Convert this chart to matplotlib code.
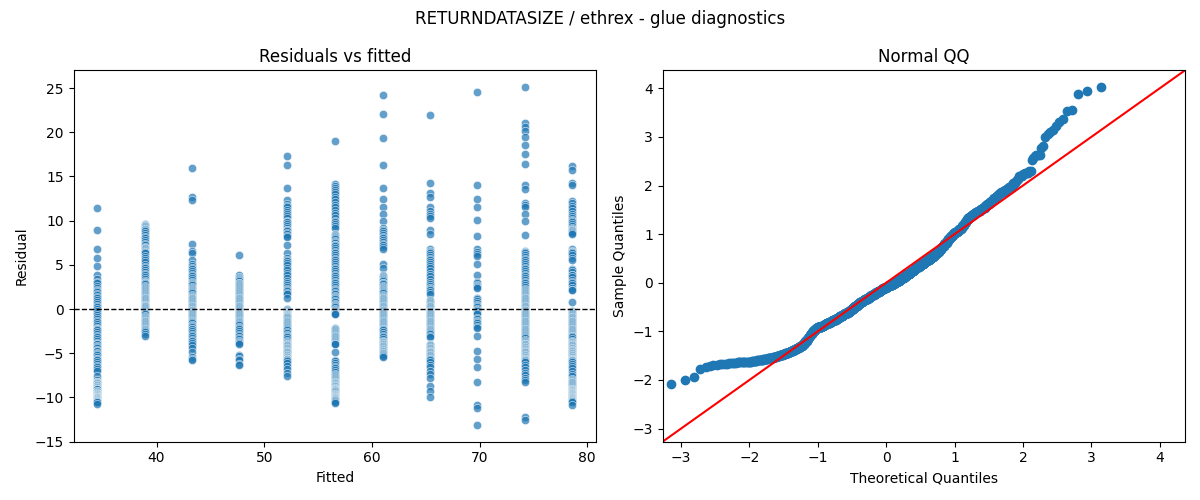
import numpy as np
import matplotlib
matplotlib.use('Agg')
import matplotlib.pyplot as plt
import seaborn as sns
from statistics import NormalDist

# Fitted levels (x positions of the columns in the left panel)
FITTED = [34.5, 38.9, 43.3, 47.7, 52.1, 56.6, 61.0, 65.4, 69.8, 74.2, 78.6]

# Residuals, one list per fitted level
resid_34 = [11.4, 8.9, 6.8,
            5.8, 4.9, 3.9, 3.4, 3.1, 2.9, 2.6, 2.4,
            2.1, 2.0, 1.9, 1.7, 1.6, 1.4, 1.2, 1.0, 0.8, 0.6, 0.4, 0.2, 0.0, -0.2, -0.5, -0.7,
            -0.9, -1.1, -1.3, -1.5, -1.7, -1.9, -2.1, -2.2, -2.3, -2.4, -2.6, -2.8, -3.0, -3.2, -3.4, -3.6,
            -3.8, -3.9, -4.0, -4.2, -4.3, -4.4, -4.6, -4.7, -4.8, -5.0, -5.1, -5.2, -5.4, -5.6, -5.7, -5.8,
            -6.0, -6.2, -6.4, -6.6, -6.8, -7.0, -7.6, -8.0,
            -8.2, -8.2, -8.3, -8.4, -8.4, -8.5, -8.6, -8.6, -8.7, -8.8, -8.8,
            -8.9, -9.0, -9.0, -9.1, -9.1,
            -9.25, -9.3, -9.4, -9.45, -9.5, -9.6, -9.65, -9.7, -9.75, -9.8, -9.85, -9.9, -9.9, -9.95, -9.95,
            -10.0, -10.1, -10.1, -10.2, -10.2, -10.3, -10.3, -10.4, -10.4, -10.5, -10.5, -10.7]

resid_39 = [9.6, 9.55, 9.5, 9.45, 9.4, 9.3, 9.2, 9.1, 9.05, 9.0, 8.8, 8.6, 8.4, 8.2, 8.0, 7.8, 7.6, 7.4,
            7.2, 7.0, 6.95, 6.9, 6.8, 6.7, 6.6, 6.5, 6.4, 6.3,
            6.0, 5.8, 5.6, 5.3, 5.0, 4.8, 4.6, 4.4, 4.2, 4.0, 3.8, 3.6, 3.4, 3.2, 3.1, 3.0, 2.9, 2.8,
            2.6, 2.5, 2.4, 2.3,
            2.1, 2.0, 1.9, 1.8, 1.7, 1.6, 1.5, 1.4, 1.3, 1.2, 1.1, 1.0, 0.9, 0.8, 0.7, 0.6, 0.5, 0.45,
            0.4, 0.3, 0.2, 0.1, 0.0, -0.1, -0.2, -0.3, -0.4, -0.5, -0.6, -0.8,
            -0.9, -1.0, -1.1, -1.2, -1.3, -1.4, -1.5, -1.6, -1.7, -1.8, -1.9, -2.0, -2.1, -2.2, -2.3,
            -2.4, -2.5, -2.6, -2.8, -3.0]

resid_43 = [16.0, 12.7, 12.3, 7.4, 6.6, 6.3,
            5.6, 5.1, 4.9, 4.7, 4.5, 4.3, 4.1, 3.9, 3.7, 3.5, 3.3, 3.1, 2.9, 2.8, 2.7, 2.5, 2.4, 2.3,
            2.1, 2.0, 1.9, 1.8, 1.6, 1.5, 1.4, 1.3, 1.2, 1.1, 1.0, 0.9, 0.8, 0.7, 0.6, 0.5, 0.4, 0.3,
            0.2, 0.1, 0.0, -0.1, -0.15, -0.2, -0.3, -0.4, -0.5, -0.6, -0.7, -0.8,
            -0.9, -1.0, -1.1, -1.2, -1.3, -1.4, -1.5, -1.6, -1.8, -1.9, -2.0, -2.2, -2.3, -2.5, -2.7,
            -2.9, -3.1, -3.3, -3.5, -3.6,
            -3.8, -4.1, -4.4, -4.9, -5.4, -5.6, -5.8]

resid_48 = [6.1, 3.9, 3.6, 3.5, 3.4, 3.3, 3.2, 3.0, 2.9, 2.8, 2.7, 2.6, 2.5, 2.4, 2.3,
            2.1, 2.0, 1.9, 1.8, 1.7, 1.6, 1.5, 1.4, 1.3, 1.2, 1.1, 1.0, 0.9, 0.8, 0.7, 0.6, 0.5, 0.4,
            0.3, 0.2, 0.1, 0.0, -0.1, -0.2, -0.3, -0.4, -0.5, -0.6, -0.7, -0.8,
            -0.9, -1.0, -1.1, -1.2, -1.3, -1.4, -1.5, -1.6, -1.7, -1.8, -2.0, -2.1, -2.3, -2.5, -2.7,
            -2.9, -3.1, -3.3, -3.4, -3.6,
            -3.7, -3.8, -4.0, -5.2, -5.3, -5.6, -5.8, -6.2, -6.3]

resid_52 = [17.3, 16.3, 13.7,
            12.3, 11.9, 11.7, 11.5, 11.2, 11.0, 10.8, 10.5, 10.3, 10.0,
            9.9, 9.8, 9.6, 9.4, 9.2, 9.0, 8.9, 8.8, 8.6, 8.5, 8.3, 8.1, 7.3, 6.3,
            5.8, 5.6, 5.4, 5.2, 5.0, 4.7, 4.4, 4.1, 3.8, 3.5, 3.2, 2.9, 2.7, 2.5, 2.3, 2.2,
            2.0, 1.8, 1.7, 1.2, 0.0, -0.1, -0.2, -0.3, -0.3, -0.4, -0.4, -0.5, -0.5, -0.6, -0.6,
            -0.7, -0.7, -0.8, -0.8, -0.85,
            -0.9, -1.0, -1.1, -1.2, -1.3, -1.4, -1.5, -1.6, -1.7, -1.8, -1.9, -2.0, -2.1, -2.3, -2.4,
            -2.6, -2.7, -2.9, -3.0, -3.2, -3.4, -3.6,
            -3.7, -3.8, -3.9, -4.0, -4.05, -4.1, -4.2, -4.3, -4.4, -4.45, -4.5, -4.6, -4.7, -4.8,
            -4.85, -4.9, -5.0, -5.1, -5.2, -5.25, -5.3, -5.4, -5.45, -5.5, -5.6, -5.65, -5.7, -5.8, -5.85,
            -6.1, -6.4, -6.8, -7.2, -7.6]

resid_57 = [19.0, 14.1, 13.9, 13.7,
            13.5, 13.3, 13.0, 12.7, 12.4, 12.1, 11.8, 11.5, 11.2, 10.9, 10.6, 10.3, 10.0,
            9.8, 9.6, 9.4, 9.2, 8.5, 8.4, 8.3, 8.1, 8.0, 7.9, 7.7, 7.6, 7.5, 7.3, 7.2, 7.1, 6.9, 6.7,
            6.5, 6.3,
            6.1, 5.9, 5.7, 5.5, 5.3, 5.1, 4.9, 4.7, 4.5, 4.3, 4.1, 3.9, 3.7, 3.5, 3.3, 3.1, 2.9, 2.7,
            2.5, 2.3,
            2.1, 2.0, 1.8, 1.7, 1.5, 1.4, 1.2, 1.1, 0.9, 0.8, 0.6, 0.5, 0.3, 0.2, 0.0, -0.1, -0.2,
            -0.3, -0.4, -0.5, -0.6, -0.6,
            -2.1, -2.2, -2.3, -2.4, -2.5, -2.6, -2.7, -2.8, -2.9, -3.0, -3.1, -3.2, -3.3, -3.4, -3.5, -3.6,
            -3.7, -3.8, -3.9, -4.0, -4.9, -5.8, -5.85,
            -5.9, -6.1, -6.3, -6.5, -6.7, -6.9, -7.1, -7.3, -7.5, -7.6, -7.7, -7.8, -7.9, -8.0,
            -8.15, -8.2, -8.3, -8.35, -8.4, -8.5, -8.55, -8.6, -8.7, -8.75, -8.8, -8.9, -8.95, -9.0,
            -9.05, -9.1, -9.15, -9.2,
            -9.25, -9.3, -9.4, -9.5, -9.6, -9.65, -9.7, -9.75, -9.8, -9.85, -9.9, -9.95,
            -10.0, -10.1, -10.1, -10.2, -10.2, -10.3, -10.3, -10.4, -10.5, -10.6]

resid_61 = [24.2, 22.1, 19.3, 16.3, 13.7,
            12.5, 11.6, 10.8, 10.0,
            9.2, 9.0, 8.8, 8.6, 8.4, 8.2, 8.0, 7.8, 7.6, 7.4, 7.2, 7.0, 6.8,
            5.1, 4.7, 3.8, 3.7, 3.6, 3.5, 3.4, 3.3, 3.2, 3.0, 2.9, 2.8, 2.6, 2.5, 2.4, 2.3,
            2.1, 2.0, 1.9, 1.8, 1.6, 1.5, 1.4, 1.3, 1.2, 1.1, 1.0, 0.9, 0.8, 0.7, 0.6, 0.5, 0.4, 0.3,
            0.2, 0.1, 0.0, -0.1, -0.15, -0.2, -0.3, -0.4, -0.5, -0.6, -0.7, -0.8,
            -0.9, -1.0, -1.1, -1.2, -1.3, -1.4, -1.5, -1.6, -1.7, -1.8, -1.9, -2.0, -2.1, -2.2, -2.3,
            -2.4, -2.6, -2.8, -3.0, -3.2, -3.4, -3.6,
            -3.7, -3.75, -3.8, -3.9, -4.0, -4.1, -4.15, -4.2, -4.3, -4.4, -4.5, -4.55, -4.6, -4.7,
            -4.8, -4.9, -4.95, -5.0, -5.1, -5.2, -5.3, -5.4]

resid_65 = [22.0, 14.3,
            13.1, 12.7, 11.6, 11.1, 10.8, 10.5, 10.3,
            8.9, 8.5, 6.8, 6.6, 6.4, 6.3,
            6.1, 5.9, 5.7, 5.5, 5.3, 5.1, 4.9, 4.6, 4.3, 4.0, 3.7, 3.4, 3.1, 2.8, 2.6, 2.4, 2.3,
            2.1, 1.9, 1.7, 1.0, 0.9, 0.8, 0.7, 0.6, 0.5, 0.4, 0.3, 0.2, 0.1, 0.0, -0.1, -0.2, -0.25,
            -0.3, -0.4, -0.5, -0.6, -0.7, -0.8,
            -0.9, -1.0, -1.1, -1.2, -1.3, -1.4, -1.5, -1.6, -1.7, -1.8, -1.9, -2.0, -2.1, -2.2, -2.3,
            -2.4, -2.5, -2.6, -2.7, -2.8, -3.0, -3.2,
            -4.0, -4.05, -4.1, -4.2, -4.3, -4.4, -4.45, -4.5, -4.6, -4.7, -4.8, -4.85, -4.9, -5.0,
            -5.1, -5.2, -5.25, -5.3, -5.4, -5.5, -5.6, -5.7, -5.8,
            -6.0, -6.3, -6.6, -7.0, -7.4, -7.8,
            -8.7, -9.3, -10.0]

resid_70 = [24.6, 14.0, 12.4, 11.6, 10.1, 8.3, 6.8, 6.5,
            6.2, 6.0, 5.1, 3.8, 3.1, 2.9, 2.7, 2.6, 2.5, 2.4,
            1.3, 1.1, 0.9, 0.7, 0.5, 0.4, 0.2, 0.0, -0.1, -0.2, -0.4, -0.6,
            -1.0, -1.1, -1.3, -1.5, -1.6, -1.8, -2.0, -2.1, -3.0,
            -4.8, -5.7, -6.5, -8.2, -10.9, -11.2, -13.1]

resid_74 = [25.1, 21.0, 20.6, 20.1, 19.5,
            18.6, 17.5, 16.4, 14.0,
            13.6, 12.0, 11.8, 11.6, 10.7, 9.95,
            8.4, 6.6, 6.5, 6.4, 6.3,
            6.1, 5.9, 5.7, 5.5, 5.3, 5.1, 4.9, 4.7, 4.5, 4.3, 4.1, 3.9, 3.7, 3.5, 3.3, 3.1, 2.9, 2.7,
            2.5, 2.3,
            2.1, 2.0, 1.9, 1.8, 1.7, 1.6, 1.5, 1.4, 1.3, 1.2, 1.1, 1.0, 0.9, 0.8, 0.7, 0.6, 0.5, 0.4,
            0.3, 0.2, 0.1, 0.0, -0.1, -0.15, -0.2, -0.3, -0.4, -0.5, -0.6, -0.7, -0.8,
            -0.9, -1.0, -1.1, -1.2, -1.3, -1.4, -1.5, -1.6, -1.7, -1.8, -1.9, -2.0, -2.1, -2.2, -2.3,
            -2.4, -2.5, -2.6, -2.7, -2.8, -2.9, -3.0, -3.2, -3.3, -3.5, -3.6,
            -3.7, -3.8, -3.9, -3.95, -4.0, -4.1, -4.2, -4.25, -4.3, -4.4, -4.5, -4.55, -4.6, -4.7,
            -4.8, -4.85, -4.9, -5.0, -5.1, -5.15, -5.2, -5.3, -5.4, -5.45, -5.5, -5.6, -5.65, -5.7,
            -5.75, -5.8, -5.85,
            -6.0, -6.3, -6.6, -6.9, -7.2, -7.5, -7.8, -8.0,
            -8.3, -12.2, -12.6]

resid_79 = [16.2, 15.7, 14.3, 14.0,
            12.2, 12.0, 11.7, 11.4, 11.1, 10.8, 10.5, 10.3, 10.1, 9.95,
            9.8, 9.6, 9.4, 9.2, 9.1, 9.0, 8.9, 8.8, 8.7, 8.6, 8.5, 6.8, 6.6, 6.5, 6.4, 6.3,
            6.1, 5.8, 5.5, 4.5, 4.4, 4.2, 3.9, 3.8, 3.6, 3.3, 3.1, 3.0, 2.7, 2.4, 2.2,
            2.1, 0.8, -0.2, -0.3, -0.4, -0.5, -0.6, -0.7, -0.8, -0.85,
            -0.9, -1.0, -1.1, -1.2, -1.3, -1.4, -1.5, -1.6, -1.7, -1.8, -1.9, -2.0, -2.1, -2.2, -2.3,
            -2.4, -2.5, -2.6, -2.7, -2.8, -2.9, -3.0, -3.1, -3.2, -3.4, -3.6,
            -3.7, -3.75, -3.8, -3.9, -4.0, -4.05, -4.1, -4.2, -4.3, -4.35, -4.4, -4.5, -4.6, -4.65,
            -4.7, -4.8, -4.9, -4.95, -5.0, -5.1, -5.2, -5.25, -5.3, -5.4, -5.45, -5.5, -5.6, -5.65,
            -5.7, -5.75, -5.8, -5.8, -5.85,
            -6.0, -6.2, -6.4, -6.7, -7.0, -7.3, -7.6, -7.9, -8.05,
            -8.15, -8.2, -8.3, -8.4, -8.5, -8.6, -8.7, -8.8, -8.9, -9.0,
            -9.05, -9.1, -9.15, -9.2,
            -9.25, -9.3, -9.35, -9.4, -9.45, -9.5, -9.55, -9.6, -9.65, -9.7, -9.75, -9.8, -9.85,
            -9.9, -9.95,
            -10.0, -10.1, -10.1, -10.2, -10.2, -10.3, -10.3, -10.4, -10.4, -10.5, -10.8]

COLUMNS = [resid_34, resid_39, resid_43, resid_48, resid_52, resid_57,
           resid_61, resid_65, resid_70, resid_74, resid_79]

# axis range of the QQ panel (same on both axes, 45 degree line corner to corner)
QQ_LIMITS = (-3.27, 4.37)

# long format
fitted = np.concatenate([np.full(len(r), f) for f, r in zip(FITTED, COLUMNS)])
resid = np.concatenate([np.array(r, dtype=float) for r in COLUMNS])

fig, (ax1, ax2) = plt.subplots(1, 2, figsize=(12, 5))

# --- Residuals vs fitted ---
sns.scatterplot(x=fitted, y=resid, alpha=0.7, ax=ax1)
ax1.axhline(0, color='black', linestyle='--', linewidth=1)
ax1.set_title('Residuals vs fitted')
ax1.set_xlabel('Fitted')
ax1.set_ylabel('Residual')

# --- Normal QQ (standardised residuals, positions i/(n+1)) ---
sample_q = (np.sort(resid) - resid.mean()) / resid.std()
n = len(sample_q)
nd = NormalDist()
theo_q = np.array([nd.inv_cdf(i / (n + 1)) for i in range(1, n + 1)])

ax2.plot(theo_q, sample_q, 'o', color='C0', markeredgecolor='C0', linestyle='none')
ax2.plot(QQ_LIMITS, QQ_LIMITS, 'r')
ax2.set_xlim(QQ_LIMITS)
ax2.set_ylim(QQ_LIMITS)
ax2.set_title('Normal QQ')
ax2.set_xlabel('Theoretical Quantiles')
ax2.set_ylabel('Sample Quantiles')

fig.suptitle('RETURNDATASIZE / ethrex - glue diagnostics')
plt.tight_layout()
plt.savefig('out.png', dpi=100)
